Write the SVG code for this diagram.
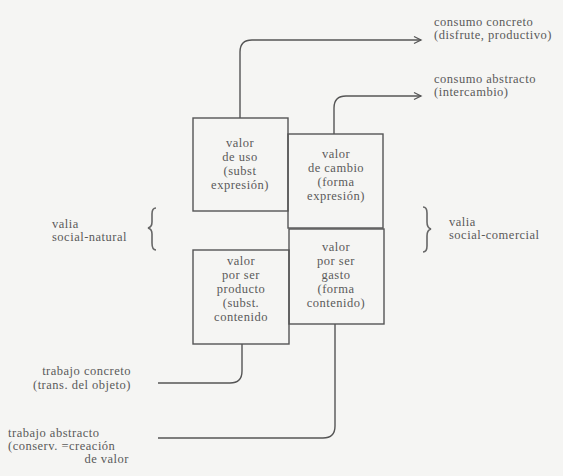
<svg xmlns="http://www.w3.org/2000/svg" width="563" height="476" viewBox="0 0 563 476">
<style>
text{font-family:"Liberation Serif","DejaVu Serif",serif;font-size:12.5px;letter-spacing:0.5px;fill:#5a5a5a}
.c{text-anchor:middle}
.r{text-anchor:end}
.box{fill:none;stroke:#555;stroke-width:1.4}
.ln{fill:none;stroke:#555;stroke-width:1.4}
.br{fill:none;stroke:#666;stroke-width:1.6}
</style>
<defs>
<marker id="ah" markerWidth="10" markerHeight="10" refX="8" refY="5" orient="auto" markerUnits="userSpaceOnUse">
<path d="M1,1.5 L8,5 L1,8.5" fill="none" stroke="#555" stroke-width="1.3"/>
</marker>
</defs>
<rect width="563" height="476" fill="#f5f5f3"/>
<g id="connectors">
<path class="ln" d="M240,118 V52 Q240,40 252,40 H421" marker-end="url(#ah)"/>
<path class="ln" d="M334,134 V108 Q334,96 346,96 H421" marker-end="url(#ah)"/>
<path class="ln" d="M242,344 V371 Q242,383 230,383 H158"/>
<path class="ln" d="M335,324 V426 Q335,438 323,438 H158"/>
</g>
<g id="uso">
<rect class="box" x="193" y="118" width="95" height="93"/>
<text class="c" x="240" y="147">valor</text>
<text class="c" x="240" y="161">de uso</text>
<text class="c" x="240" y="175">(subst</text>
<text class="c" x="240" y="189">expresión)</text>
</g>
<g id="cambio">
<rect class="box" x="288" y="134" width="95" height="94"/>
<text class="c" x="336" y="158">valor</text>
<text class="c" x="336" y="172">de cambio</text>
<text class="c" x="336" y="186">(forma</text>
<text class="c" x="336" y="200">expresión)</text>
</g>
<g id="producto">
<rect class="box" x="193" y="250" width="96" height="94"/>
<text class="c" x="241" y="265">valor</text>
<text class="c" x="241" y="279">por ser</text>
<text class="c" x="241" y="293">producto</text>
<text class="c" x="241" y="307">(subst.</text>
<text class="c" x="241" y="321">contenido</text>
</g>
<g id="gasto">
<rect class="box" x="289" y="229" width="95" height="95"/>
<text class="c" x="336" y="251">valor</text>
<text class="c" x="336" y="265">por ser</text>
<text class="c" x="336" y="279">gasto</text>
<text class="c" x="336" y="293">(forma</text>
<text class="c" x="336" y="307">contenido)</text>
</g>
<g id="consumo-concreto">
<text x="434" y="26">consumo concreto</text>
<text x="434" y="39">(disfrute, productivo)</text>
</g>
<g id="consumo-abstracto">
<text x="434" y="83">consumo abstracto</text>
<text x="434" y="96">(intercambio)</text>
</g>
<g id="valia-natural">
<text x="52" y="228">valia</text>
<text x="52" y="241">social-natural</text>
<path class="br" d="M156,208 Q152,208 152,214 V222 Q152,227 148,228 Q152,229 152,234 V243 Q152,250 156,250"/>
</g>
<g id="valia-comercial">
<text x="449" y="226">valia</text>
<text x="449" y="239">social-comercial</text>
<path class="br" d="M423,207 Q427,207 427,213 V222 Q427,228 431,229 Q427,230 427,236 V246 Q427,252 423,252"/>
</g>
<g id="trabajo-concreto">
<text class="r" x="131" y="375">trabajo concreto</text>
<text class="r" x="131" y="389">(trans. del objeto)</text>
</g>
<g id="trabajo-abstracto">
<text x="8" y="437">trabajo abstracto</text>
<text x="8" y="450">(conserv. =creación</text>
<text class="r" x="129" y="463">de valor</text>
</g>
</svg>
